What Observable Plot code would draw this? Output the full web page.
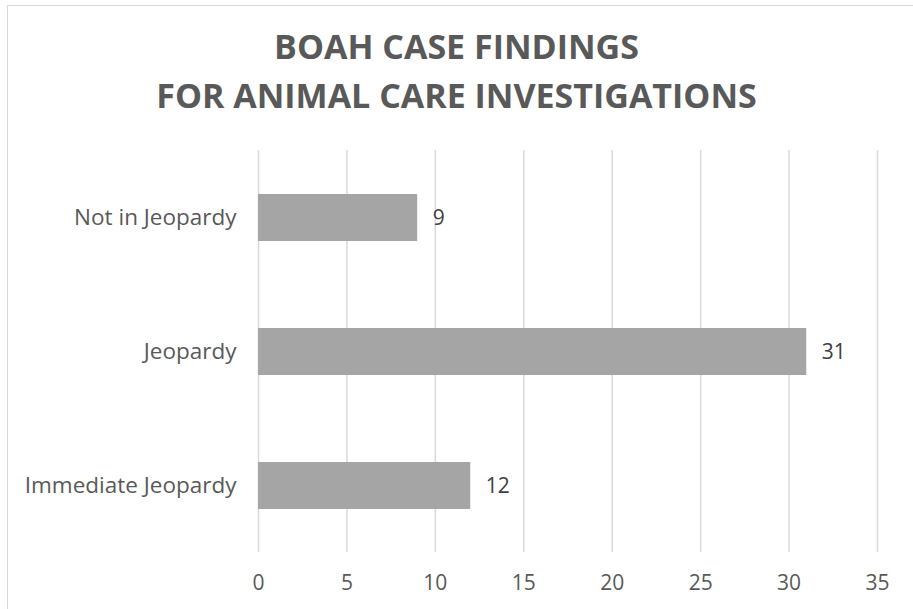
<!DOCTYPE html>
<html>
<head>
<meta charset="utf-8">
<script src="https://cdn.jsdelivr.net/npm/d3@7"></script>
<script src="https://cdn.jsdelivr.net/npm/@observablehq/plot@0.6"></script>
<style>
  html, body { margin: 0; padding: 0; background: #fff; overflow: hidden; }
  #frame {
    position: absolute; left: 7px; top: 5px; width: 1000px; height: 700px;
    border: 1.5px solid #d9d9d9; box-sizing: border-box; background: #fff;
  }
  #title {
    position: absolute; left: 0; top: 22px; width: 913px; text-align: center;
    font-family: "Open Sans", sans-serif; font-weight: 700; font-size: 34px;
    line-height: 49px; color: #595959; margin: 0;
  }
  #chart { position: absolute; left: 0; top: 130px; }
</style>
</head>
<body>
<div id="frame"></div>
<div id="title">BOAH CASE FINDINGS<br>FOR ANIMAL CARE INVESTIGATIONS</div>
<div id="chart"></div>
<script>
const categories = ["Not in Jeopardy", "Jeopardy", "Immediate Jeopardy"];
const counts = [9, 31, 12];
const xTicks = [0, 5, 10, 15, 20, 25, 30, 35];

const data = categories.map((c, i) => ({category: c, count: counts[i]}));

const chart = Plot.plot({
  width: 913,
  height: 479,
  marginLeft: 258,
  marginRight: 36,
  marginTop: 20,
  marginBottom: 57,
  style: {fontFamily: "Open Sans, sans-serif", fontSize: "21px", color: "#595959", background: "transparent"},
  x: {domain: [0, 35], ticks: xTicks, label: null},
  y: {domain: categories, paddingInner: 0.65, paddingOuter: 0.325, label: null},
  marks: [
    Plot.gridX(xTicks, {stroke: "#d9d9d9", strokeOpacity: 1, strokeWidth: 1.5}),
    Plot.barX(data, {x: "count", y: "category", fill: "#a5a5a5"}),
    Plot.text(data, {x: "count", y: "category", text: d => String(d.count), textAnchor: "start", dx: 15, fill: "#404040", fontSize: 21}),
    Plot.axisX({ticks: xTicks, tickSize: 0, tickPadding: 23, fontSize: 21, fill: "#595959"}),
    Plot.axisY({tickSize: 0, tickPadding: 22, fontSize: 22.5, fill: "#595959"})
  ]
});
document.getElementById("chart").appendChild(chart);
</script>
</body>
</html>
